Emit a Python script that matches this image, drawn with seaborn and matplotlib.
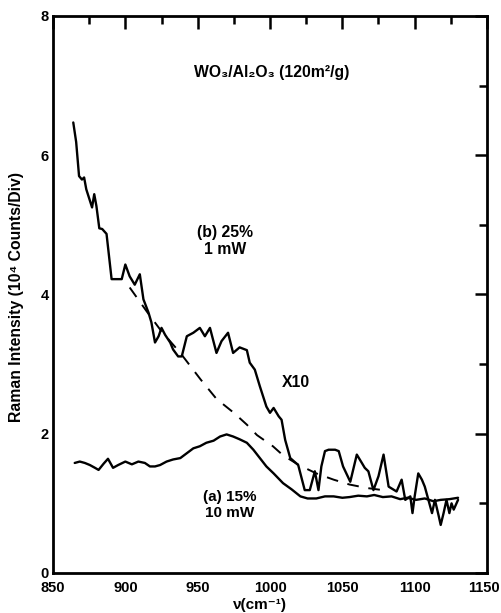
import numpy as np
import pandas as pd
import matplotlib
matplotlib.use("Agg")
import matplotlib.pyplot as plt
import matplotlib.transforms as mtransforms
import seaborn as sns
from matplotlib.ticker import MultipleLocator

# ---- data ----
b_x = [864, 866, 868, 870, 871.5, 873, 877, 878.5, 880, 882, 884, 887, 890.5, 895, 897.5,
       900, 903, 906.5, 910, 912.5, 916, 918, 920.5, 923, 925, 927.5, 931, 933, 936.5, 939,
       942.5, 947, 951.5, 955, 958.5, 963, 966.5, 971, 974.5, 979, 984, 986, 989.5, 993,
       997.5, 1000, 1002.5, 1006, 1008, 1010.5, 1014, 1019.5, 1024, 1027.5, 1031, 1033.5,
       1035.5, 1038, 1040.5, 1045, 1047.5, 1050.5, 1055.5, 1060, 1063.5, 1065.5, 1068,
       1071.5, 1075, 1078.5, 1082, 1087.5, 1091, 1093.5, 1097, 1098.5, 1100, 1102.5, 1105,
       1107, 1109.5, 1112, 1114, 1116.5, 1118, 1120, 1122, 1124, 1125.5, 1127, 1130]
b_y = [6.47, 6.19, 5.70, 5.65, 5.68, 5.51, 5.25, 5.44, 5.27, 4.95, 4.94, 4.87, 4.22, 4.22, 4.22,
       4.43, 4.26, 4.14, 4.29, 3.93, 3.74, 3.60, 3.31, 3.40, 3.52, 3.42, 3.31, 3.21, 3.11, 3.11,
       3.40, 3.45, 3.52, 3.40, 3.52, 3.16, 3.33, 3.45, 3.16, 3.24, 3.20, 3.02, 2.92, 2.68,
       2.39, 2.30, 2.37, 2.25, 2.20, 1.91, 1.65, 1.55, 1.19, 1.19, 1.46, 1.19,
       1.53, 1.75, 1.77, 1.77, 1.75, 1.53, 1.31, 1.70, 1.58, 1.51, 1.46,
       1.19, 1.39, 1.70, 1.24, 1.17, 1.34, 1.05, 1.10, 0.86, 1.10, 1.43, 1.34,
       1.24, 1.05, 0.86, 1.05, 0.83, 0.69, 0.86, 1.05, 0.86, 1.00, 0.91, 1.05]

a_x = [865, 868.5, 872, 875.5, 879, 881.5, 885, 888, 891.5, 895, 900, 904.5, 909, 913.5, 917,
       920.5, 924, 928.5, 933, 938, 942.5, 947, 951.5, 956, 961, 965.5, 970, 974.5, 979, 984,
       988.5, 993, 997.5, 1002.5, 1009, 1015, 1021, 1026, 1032, 1038, 1044, 1050, 1055, 1061,
       1067, 1072, 1078, 1084, 1090, 1095, 1101, 1107, 1113, 1118, 1124, 1130]
a_y = [1.58, 1.60, 1.58, 1.55, 1.51, 1.48, 1.57, 1.64, 1.51, 1.55, 1.60, 1.56, 1.60, 1.58, 1.53,
       1.53, 1.55, 1.60, 1.63, 1.65, 1.72, 1.79, 1.82, 1.87, 1.90, 1.96, 1.99, 1.96, 1.92, 1.87,
       1.77, 1.65, 1.53, 1.43, 1.29, 1.20, 1.10, 1.07, 1.07, 1.10, 1.10, 1.08, 1.09, 1.11,
       1.10, 1.12, 1.09, 1.10, 1.06, 1.08, 1.05, 1.07, 1.03, 1.05, 1.06, 1.08]

d_x = [903, 915, 925, 938, 952, 963, 975, 984, 991, 1002, 1009, 1020, 1032, 1044, 1055, 1067, 1078]
d_y = [4.10, 3.75, 3.47, 3.16, 2.78, 2.50, 2.30, 2.13, 1.98, 1.82, 1.69, 1.55, 1.43, 1.34, 1.27, 1.22, 1.19]

x_ticks = [850, 900, 950, 1000, 1050, 1100, 1150]
y_ticks = [0, 2, 4, 6, 8]

# ---- style ----
sns.set_style("white", rc={"text.color": "black", "axes.labelcolor": "black",
                           "xtick.color": "black", "ytick.color": "black",
                           "axes.edgecolor": "black"})
plt.rcParams['font.family'] = ['Liberation Sans', 'DejaVu Sans']
plt.rcParams['font.weight'] = 'bold'

fig = plt.figure(figsize=(5.02, 6.13), dpi=100)
ax = fig.add_axes([0.1056, 0.0653, 0.8645, 0.9087])

df_b = pd.DataFrame({"x": b_x, "y": b_y})
df_a = pd.DataFrame({"x": a_x, "y": a_y})
df_d = pd.DataFrame({"x": d_x, "y": d_y})

sns.lineplot(data=df_b, x="x", y="y", sort=False, color="black", lw=1.7, ax=ax)
sns.lineplot(data=df_a, x="x", y="y", sort=False, color="black", lw=1.7, ax=ax)
sns.lineplot(data=df_d, x="x", y="y", sort=False, color="black", lw=1.4,
             linestyle=(0, (6, 5)), ax=ax)

ax.set_xlim(850, 1150)
ax.set_ylim(0, 8)
ax.set_xticks(x_ticks)
ax.set_yticks(y_ticks)
ax.xaxis.set_minor_locator(MultipleLocator(25))
ax.yaxis.set_minor_locator(MultipleLocator(1))
ax.tick_params(which='both', direction='in', top=True, right=True, width=1.8,
               labelsize=10.5, pad=3, color='black', labelcolor='black')
ax.tick_params(axis='x', which='both', pad=5.5)
ax.tick_params(which='major', length=9)
ax.tick_params(which='minor', length=5.5)
for lab in ax.get_xticklabels() + ax.get_yticklabels():
    lab.set_fontweight('bold')
# nudge the last x tick label slightly left so it stays inside the figure
last = ax.get_xticklabels()[-1]
last.set_transform(last.get_transform() + mtransforms.ScaledTranslation(-3 / 100, 0, fig.dpi_scale_trans))
for s in ax.spines.values():
    s.set_linewidth(2.0)
    s.set_color('black')

ax.set_xlabel("ν(cm⁻¹)", fontsize=11, fontweight='bold')
ax.xaxis.set_label_coords(0.477, -0.045)
ax.set_ylabel("Raman Intensity (10⁴ Counts/Div)", fontsize=11.3, fontweight='bold')
ax.yaxis.set_label_coords(-0.068, 0.495)

ax.text(1001, 7.19, "WO₃/Al₂O₃ (120m²/g)", ha='center', va='center', fontsize=11.3, fontweight='bold')
ax.text(969, 4.77, "(b) 25%\n1 mW", ha='center', va='center', fontsize=11.3, fontweight='bold',
        linespacing=1.15)
ax.text(1018, 2.73, "X10", ha='center', va='center', fontsize=11.3, fontweight='bold')
ax.text(972, 0.98, "(a) 15%\n10 mW", ha='center', va='center', fontsize=11, fontweight='bold',
        linespacing=1.15)

fig.savefig("out.png", dpi=100)
